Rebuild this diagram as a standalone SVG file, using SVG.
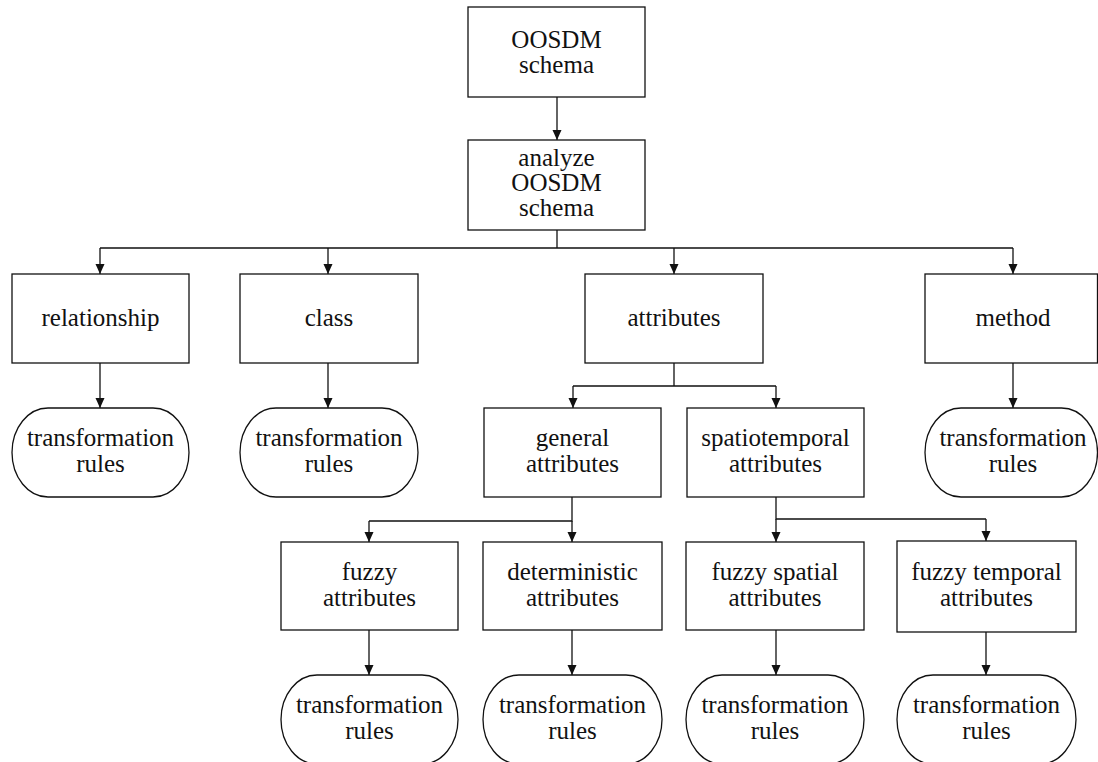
<svg xmlns="http://www.w3.org/2000/svg" width="1098" height="762" viewBox="0 0 1098 762">
  <defs>
    <marker id="arrow" markerUnits="userSpaceOnUse" markerWidth="10" markerHeight="10" refX="10" refY="5" orient="auto">
      <path d="M0,0.5 L10,5 L0,9.5 z" fill="#111"/>
    </marker>
  </defs>
  <style>
    .box { fill: #fff; stroke: #111; stroke-width: 1.3; }
    .term { fill: #fff; stroke: #111; stroke-width: 1.3; }
    .label { font-family: "Liberation Serif", "Times New Roman", serif; font-size: 25px; fill: #111; text-anchor: middle; }
    .conn { fill: none; stroke: #111; stroke-width: 1.3; }
    .arr { marker-end: url(#arrow); }
  </style>
  <rect width="1098" height="762" fill="#fff"/>

  <!-- connectors -->
  <g id="connectors">
    <path class="conn arr" d="M557,97 V140"/>
    <path class="conn" d="M557,230 V248 M100,248 H1013"/>
    <path class="conn arr" d="M100,248 V274"/>
    <path class="conn arr" d="M328,248 V274"/>
    <path class="conn arr" d="M674,248 V274"/>
    <path class="conn arr" d="M1013,248 V274"/>
    <path class="conn arr" d="M100,363 V408"/>
    <path class="conn arr" d="M328,363 V408"/>
    <path class="conn arr" d="M1013,363 V408"/>
    <path class="conn" d="M674,363 V386 M573,386 H776"/>
    <path class="conn arr" d="M573,386 V408"/>
    <path class="conn arr" d="M776,386 V408"/>
    <path class="conn" d="M572,497 V521 H369"/>
    <path class="conn arr" d="M369,521 V542"/>
    <path class="conn arr" d="M572,521 V542"/>
    <path class="conn" d="M776,497 V519 H986"/>
    <path class="conn arr" d="M776,519 V542"/>
    <path class="conn arr" d="M986,519 V541"/>
    <path class="conn arr" d="M369,630 V675"/>
    <path class="conn arr" d="M572,630 V675"/>
    <path class="conn arr" d="M776,630 V675"/>
    <path class="conn arr" d="M986,632 V675"/>
  </g>

  <g id="oosdm-schema">
    <rect class="box" x="468" y="7" width="177" height="90"/>
    <text class="label" x="556.5" y="48">OOSDM</text>
    <text class="label" x="556.5" y="73">schema</text>
  </g>
  <g id="analyze">
    <rect class="box" x="468" y="140" width="177" height="90"/>
    <text class="label" x="556.5" y="166">analyze</text>
    <text class="label" x="556.5" y="191">OOSDM</text>
    <text class="label" x="556.5" y="216">schema</text>
  </g>

  <g id="relationship">
    <rect class="box" x="12" y="274" width="177" height="89"/>
    <text class="label" x="100.5" y="326">relationship</text>
  </g>
  <g id="class">
    <rect class="box" x="240" y="274" width="178" height="89"/>
    <text class="label" x="329" y="326">class</text>
  </g>
  <g id="attributes">
    <rect class="box" x="585" y="274" width="178" height="89"/>
    <text class="label" x="674" y="326">attributes</text>
  </g>
  <g id="method">
    <rect class="box" x="925" y="274" width="172.5" height="89"/>
    <text class="label" x="1013" y="326">method</text>
  </g>

  <g id="rules-relationship">
    <rect class="term" x="12" y="408" width="177" height="89" rx="36" ry="44.5"/>
    <text class="label" x="100.5" y="446">transformation</text>
    <text class="label" x="100.5" y="472">rules</text>
  </g>
  <g id="rules-class">
    <rect class="term" x="240" y="408" width="178" height="89" rx="36" ry="44.5"/>
    <text class="label" x="329" y="446">transformation</text>
    <text class="label" x="329" y="472">rules</text>
  </g>
  <g id="general-attributes">
    <rect class="box" x="484" y="408" width="177" height="89"/>
    <text class="label" x="572.5" y="446">general</text>
    <text class="label" x="572.5" y="472">attributes</text>
  </g>
  <g id="spatiotemporal-attributes">
    <rect class="box" x="687" y="408" width="177" height="89"/>
    <text class="label" x="775.5" y="446">spatiotemporal</text>
    <text class="label" x="775.5" y="472">attributes</text>
  </g>
  <g id="rules-method">
    <rect class="term" x="925" y="408" width="172.5" height="89" rx="36" ry="44.5"/>
    <text class="label" x="1013" y="446">transformation</text>
    <text class="label" x="1013" y="472">rules</text>
  </g>

  <g id="fuzzy-attributes">
    <rect class="box" x="281" y="542" width="177" height="88"/>
    <text class="label" x="369.5" y="580">fuzzy</text>
    <text class="label" x="369.5" y="606">attributes</text>
  </g>
  <g id="deterministic-attributes">
    <rect class="box" x="483" y="542" width="179" height="88"/>
    <text class="label" x="572.5" y="580">deterministic</text>
    <text class="label" x="572.5" y="606">attributes</text>
  </g>
  <g id="fuzzy-spatial-attributes">
    <rect class="box" x="686" y="542" width="178" height="88"/>
    <text class="label" x="775" y="580">fuzzy spatial</text>
    <text class="label" x="775" y="606">attributes</text>
  </g>
  <g id="fuzzy-temporal-attributes">
    <rect class="box" x="897" y="541" width="179" height="91"/>
    <text class="label" x="986.5" y="580">fuzzy temporal</text>
    <text class="label" x="986.5" y="606">attributes</text>
  </g>

  <g id="rules-fuzzy">
    <rect class="term" x="281" y="675" width="177" height="89" rx="36" ry="44.5"/>
    <text class="label" x="369.5" y="713">transformation</text>
    <text class="label" x="369.5" y="739">rules</text>
  </g>
  <g id="rules-deterministic">
    <rect class="term" x="483" y="675" width="179" height="89" rx="36" ry="44.5"/>
    <text class="label" x="572.5" y="713">transformation</text>
    <text class="label" x="572.5" y="739">rules</text>
  </g>
  <g id="rules-spatial">
    <rect class="term" x="686" y="675" width="178" height="89" rx="36" ry="44.5"/>
    <text class="label" x="775" y="713">transformation</text>
    <text class="label" x="775" y="739">rules</text>
  </g>
  <g id="rules-temporal">
    <rect class="term" x="897" y="675" width="179" height="89" rx="36" ry="44.5"/>
    <text class="label" x="986.5" y="713">transformation</text>
    <text class="label" x="986.5" y="739">rules</text>
  </g>
</svg>
